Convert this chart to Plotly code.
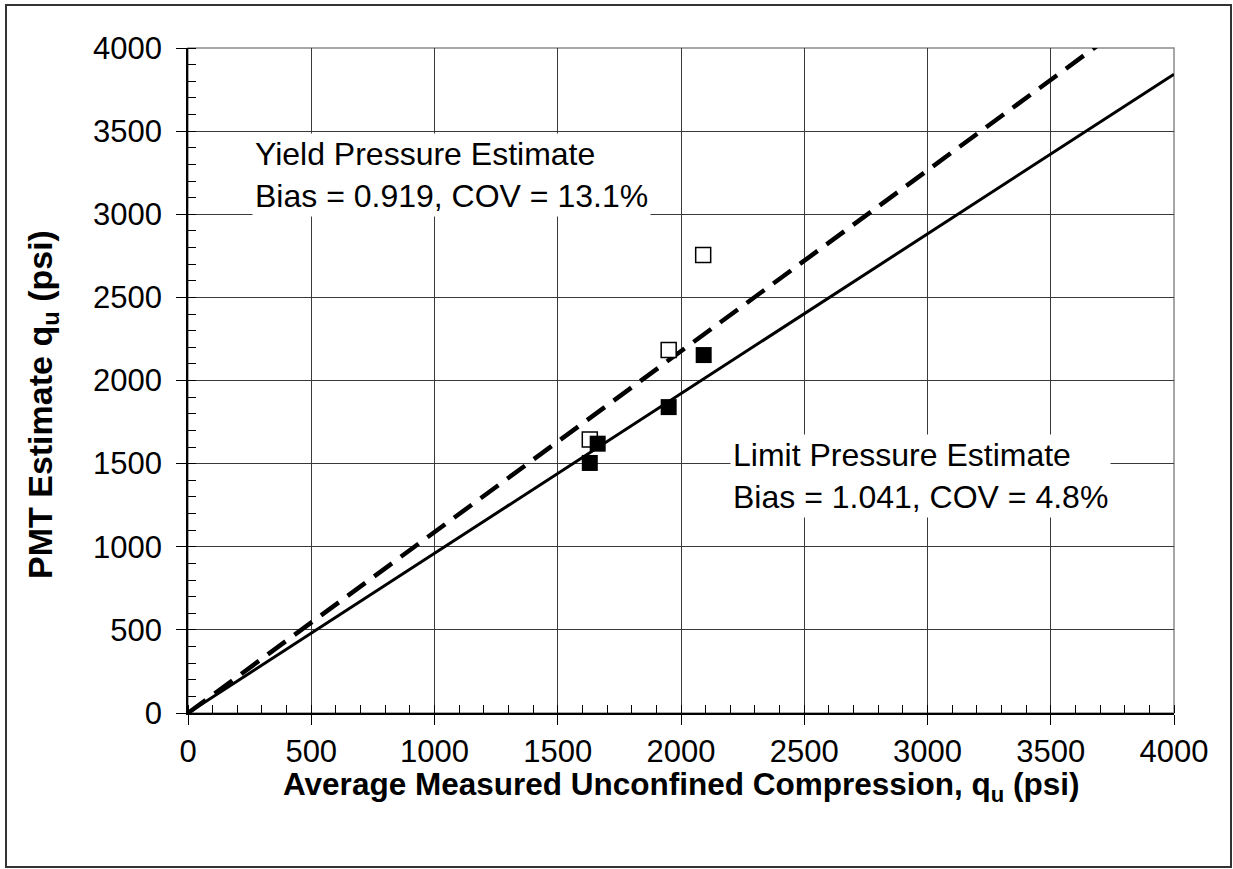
import plotly.graph_objects as go

# ---- data ----
yield_x = [1630, 1950, 2090]
yield_y = [1645, 2183, 2755]
limit_x = [1630, 1662, 1950, 2092]
limit_y = [1504, 1620, 1840, 2153]
yield_bias = 0.919
limit_bias = 1.041
line_x = [0, 4000]
tick_vals = [0, 500, 1000, 1500, 2000, 2500, 3000, 3500, 4000]
tick_text = [str(v) for v in tick_vals]
yield_label = "Yield Pressure Estimate<br>Bias = 0.919, COV = 13.1%"
limit_label = "Limit Pressure Estimate<br>Bias = 1.041, COV = 4.8%"
x_title = "Average Measured Unconfined Compression, q<sub>u</sub> (psi)"
y_title = "PMT Estimate q<sub>u</sub> (psi)"

FONT = "Arial, Liberation Sans, sans-serif"
W, H = 1233, 869
L, R, T, B = 188, 1233 - 1174, 48, 869 - 713
PW, PH = W - L - R, H - T - B


def px2paper_x(px):
    return (px - L) / PW


def px2paper_y(py):
    return (H - B - py) / PH


fig = go.Figure()

fig.add_trace(go.Scatter(
    x=line_x, y=[v / yield_bias for v in line_x], mode="lines",
    line=dict(color="black", width=4.5, dash="22px,11px"), showlegend=False))
fig.add_trace(go.Scatter(
    x=line_x, y=[v / limit_bias for v in line_x], mode="lines",
    line=dict(color="black", width=3), showlegend=False))
fig.add_trace(go.Scatter(
    x=yield_x, y=yield_y, mode="markers",
    marker=dict(symbol="square", size=15, color="white",
                line=dict(color="black", width=1.5)), showlegend=False))
fig.add_trace(go.Scatter(
    x=limit_x, y=limit_y, mode="markers",
    marker=dict(symbol="square", size=16, color="black",
                line=dict(color="black", width=0)), showlegend=False))

axis_common = dict(
    range=[0, 4000], tickvals=tick_vals, ticktext=tick_text,
    showgrid=True, gridcolor="#3a3a3a", gridwidth=1,
    zeroline=False, showline=True, linecolor="black", linewidth=1.5,
    ticks="outside", ticklen=10, tickwidth=1, tickcolor="black",
    tickfont=dict(family=FONT, size=31, color="black"),
    minor=dict(dtick=100, ticks="inside", ticklen=8, tickwidth=1,
               tickcolor="black", showgrid=False),
    fixedrange=True,
)

fig.update_layout(
    width=W, height=H,
    margin=dict(l=L, r=R, t=T, b=B, pad=0),
    paper_bgcolor="white", plot_bgcolor="white",
    xaxis=dict(**axis_common),
    yaxis=dict(**axis_common, ticklabelstandoff=8),
    font=dict(family=FONT, color="black"),
    annotations=[
        dict(x=260, y=3489, xref="x", yref="y", xanchor="left", yanchor="top",
             text=yield_label, align="left", showarrow=False,
             bgcolor="white", borderpad=2,
             font=dict(family=FONT, size=32, color="black")),
        dict(x=2198, y=1680, xref="x", yref="y", xanchor="left", yanchor="top",
             text=limit_label, align="left", showarrow=False,
             bgcolor="white", borderpad=2,
             font=dict(family=FONT, size=32, color="black")),
        dict(x=0.5, y=px2paper_y(786), xref="paper", yref="paper",
             xanchor="center", yanchor="middle", text="<b>" + x_title + "</b>",
             showarrow=False, font=dict(family=FONT, size=31.5, color="black")),
        dict(x=px2paper_x(42), y=px2paper_y(405), xref="paper", yref="paper",
             xanchor="center", yanchor="middle", text="<b>" + y_title + "</b>",
             textangle=-90, showarrow=False,
             font=dict(family=FONT, size=34, color="black")),
    ],
    shapes=[
        # grey plot frame (top/right)
        dict(type="rect", xref="paper", yref="paper", x0=0, x1=1, y0=0, y1=1,
             line=dict(color="#8a8a8a", width=1.5), layer="below"),
        # outer chart border
        dict(type="rect", xref="paper", yref="paper",
             x0=px2paper_x(6), x1=px2paper_x(1231),
             y0=px2paper_y(867), y1=px2paper_y(5),
             line=dict(color="#333333", width=2)),
    ],
)

fig.write_html("out.html")
